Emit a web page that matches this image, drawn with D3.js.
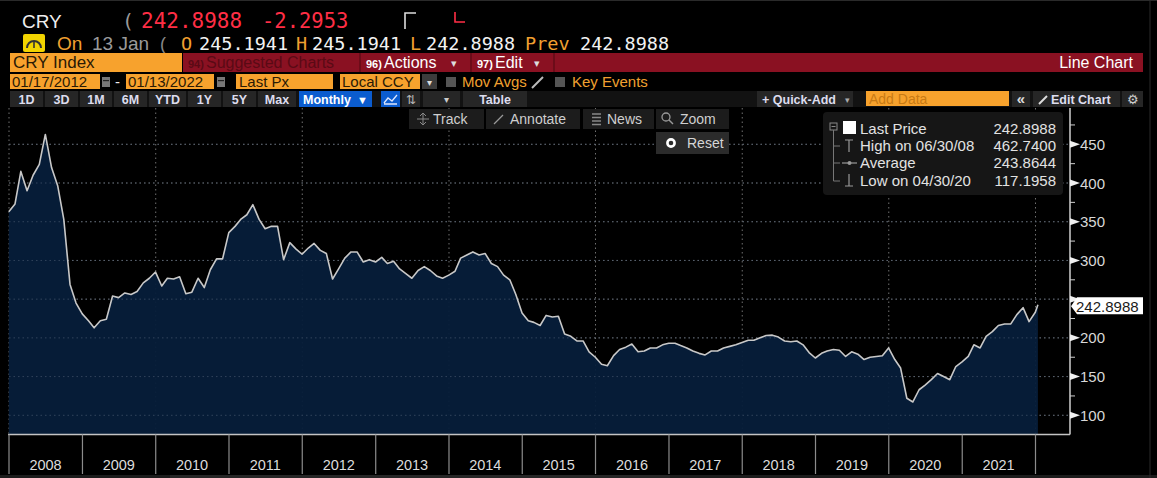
<!DOCTYPE html>
<html>
<head>
<meta charset="utf-8">
<script src="https://cdn.jsdelivr.net/npm/d3@7"></script>
<style>
  html, body { margin: 0; padding: 0; background: #000; }
  svg { display: block; }
</style>
</head>
<body>
<svg id="chart" width="1157" height="478"></svg>
<script>
// CRY Index monthly line chart (terminal style)

// month-end closes, first value is Dec 2007, then Jan..Dec for each year
const firstMonthEnd = '2007-12-31';
const monthlyLast = [
  363,
  373, 415, 390, 410, 424, 462.74, 420, 396, 353, 269, 245, 231,   // 2008
  222, 213, 222, 224, 254, 252, 258, 256, 260, 271, 277, 285,      // 2009
  267, 277, 276, 279, 257, 259, 277, 265, 288, 302, 302, 336,      // 2010
  344, 353, 359, 372, 353, 341, 344, 344, 301, 323, 315, 308,      // 2011
  316, 322, 313, 309, 276, 289, 303, 311, 311, 298, 301, 298,      // 2012
  304, 296, 299, 289, 283, 277, 287, 292, 287, 280, 277, 281,      // 2013
  286, 303, 307, 311, 307, 309, 296, 292, 281, 275, 256, 232,      // 2014
  222, 220, 216, 229, 227, 228, 205, 202, 196, 196, 182, 175,      // 2015
  166, 164, 177, 185, 188, 192, 182, 183, 187, 187, 191, 193,      // 2016
  193, 190, 187, 183, 180, 178, 183, 183, 187, 189, 191, 194,      // 2017
  197, 197, 200, 203, 203.5, 201, 196, 195, 196, 191, 181, 174,    // 2018
  180, 183, 185, 184, 176, 182, 179, 172, 175, 176, 177, 187,      // 2019
  172, 161, 122, 117.1958, 133, 139, 146, 154, 150, 146, 163, 169, // 2020
  176, 191, 187, 202, 208, 216, 218, 218, 230, 239, 221, 233       // 2021
];
const lastDate = '2022-01-13';
const lastValue = 242.8988;

const yearLabels = ['2008','2009','2010','2011','2012','2013','2014','2015','2016','2017','2018','2019','2020','2021'];
const yLabelTicks = [100, 150, 200, 250, 300, 350, 400, 450];
const yMinorTicks = [125, 175, 225, 275, 325, 375, 425, 475];
const gridYears = ['2008','2010','2012','2014','2016','2018','2020','2022'];

const legendNames = ['Last Price', 'High on 06/30/08', 'Average', 'Low on 04/30/20'];
const legendValues = ['242.8988', '462.7400', '243.8644', '117.1958'];

const quoteRow = { open: '245.1941', high: '245.1941', low: '242.8988', prev: '242.8988', last: '242.8988', change: '-2.2953' };

const rangeButtons = ['1D','3D','1M','6M','YTD','1Y','5Y','Max'];
const toolButtons = ['Track','Annotate','News','Zoom'];

// build the series
const parse = d3.timeParse('%Y-%m-%d');
const start = parse(firstMonthEnd);
let series = monthlyLast.map((v, i) => ({
  date: new Date(start.getFullYear(), start.getMonth() + 1 + i, 0),
  value: v
}));
series.push({ date: parse(lastDate), value: lastValue });

const svg = d3.select('#chart');
const UI = 'Liberation Sans, Arial, sans-serif';
const MONO = 'DejaVu Sans Mono, monospace';
const ORANGE = '#f7a22d';
const ORANGE_TXT = '#f0a030';

function txt(x, y, s, o) {
  o = o || {};
  return svg.append('text')
    .attr('x', x).attr('y', y)
    .attr('font-family', o.family || UI)
    .attr('font-size', o.size || 14)
    .attr('font-weight', o.weight || 'normal')
    .attr('fill', o.fill || '#ddd')
    .attr('text-anchor', o.anchor || 'start')
    .text(s);
}
function box(x, y, w, h, fill, r) {
  return svg.append('rect').attr('x', x).attr('y', y).attr('width', w).attr('height', h)
    .attr('fill', fill).attr('rx', r || 0);
}

svg.append('rect').attr('width', 1157).attr('height', 478).attr('fill', '#000');

// ---------- header rows ----------
txt(22, 28, 'CRY', { size: 19, fill: '#eee' });
txt(122, 28, '(', { size: 20, fill: '#999', family: MONO });
txt(141, 28, quoteRow.last, { size: 21, fill: '#ff2e45', family: MONO });
txt(262, 28, quoteRow.change, { size: 20.5, fill: '#ff2e45', family: MONO });
svg.append('path').attr('d', 'M405,29 V13 H416').attr('stroke', '#ddd').attr('stroke-width', 1.6).attr('fill', 'none');
svg.append('path').attr('d', 'M455,12 V22 H465').attr('stroke', '#ff2e45').attr('stroke-width', 1.6).attr('fill', 'none');

// yellow gauge icon
box(23, 34, 22, 18, '#f2d400', 2);
svg.append('path').attr('d', 'M27,48 A7,7 0 0 1 41,48').attr('stroke', '#333').attr('stroke-width', 2).attr('fill', 'none');
svg.append('line').attr('x1', 34).attr('y1', 48).attr('x2', 34).attr('y2', 41).attr('stroke', '#333').attr('stroke-width', 1.6);
txt(57, 50, 'On', { size: 19, fill: ORANGE_TXT });
txt(92, 50, '13 Jan', { size: 19, fill: '#9a9a9a' });
txt(160, 50, '(', { size: 18, fill: '#888' });
txt(181, 50, 'O', { size: 18.5, fill: ORANGE_TXT, family: MONO });
txt(199, 50, quoteRow.open, { size: 18.5, fill: '#f2f2f2', family: MONO });
txt(296, 50, 'H', { size: 18.5, fill: ORANGE_TXT, family: MONO });
txt(312, 50, quoteRow.high, { size: 18.5, fill: '#f2f2f2', family: MONO });
txt(410, 50, 'L', { size: 18.5, fill: ORANGE_TXT, family: MONO });
txt(426, 50, quoteRow.low, { size: 18.5, fill: '#f2f2f2', family: MONO });
txt(525, 50, 'Prev', { size: 18.5, fill: ORANGE_TXT, family: MONO });
txt(580, 50, quoteRow.prev, { size: 18.5, fill: '#f2f2f2', family: MONO });

// row 3: security box + red action bar
box(10, 53, 172, 19, ORANGE);
txt(13, 68, 'CRY Index', { size: 17, fill: '#2a1a05' });
box(183, 53, 960, 19, '#8a1122');
[359, 470, 553].forEach(xp => box(xp, 53, 2, 19, '#6c0c19'));
txt(188, 68, '94)', { size: 11, fill: '#5a0a15', weight: 'bold' });
txt(206, 68, 'Suggested Charts', { size: 16, fill: '#5a0a15' });
txt(366, 68, '96)', { size: 11, fill: '#fff', weight: 'bold' });
txt(384, 68, 'Actions', { size: 16, fill: '#fff' });
txt(451, 67, '▾', { size: 11, fill: '#ddd' });
txt(477, 68, '97)', { size: 11, fill: '#fff', weight: 'bold' });
txt(495, 68, 'Edit', { size: 16, fill: '#fff' });
txt(534, 67, '▾', { size: 11, fill: '#ddd' });
txt(1133, 68, 'Line Chart', { size: 16, fill: '#fff', anchor: 'end' });

// row 4: date range and options
function calIcon(x) {
  box(x, 77, 8, 10, '#777');
  box(x + 1, 80, 6, 1.2, '#222');
}
box(10, 74, 90, 15, ORANGE); txt(12, 87, '01/17/2012', { size: 15, fill: '#2a1a05' });
calIcon(102);
txt(115, 87, '-', { size: 15, fill: '#eee' });
box(126, 74, 88, 15, ORANGE); txt(128, 87, '01/13/2022', { size: 15, fill: '#2a1a05' });
calIcon(217);
box(236, 74, 97, 15, ORANGE); txt(239, 87, 'Last Px', { size: 15, fill: '#2a1a05' });
box(340, 74, 80, 15, ORANGE); txt(342, 87, 'Local CCY', { size: 15, fill: '#2a1a05' });
box(422, 74, 15, 15, '#3c3c3c'); txt(429.5, 86, '▾', { size: 10, fill: '#ddd', anchor: 'middle' });
box(446, 77, 10, 10, '#555');
txt(462, 87, 'Mov Avgs', { size: 15, fill: ORANGE_TXT });
svg.append('line').attr('x1', 532).attr('y1', 88).attr('x2', 543).attr('y2', 77).attr('stroke', '#bbb').attr('stroke-width', 2);
box(555, 77, 10, 10, '#555');
txt(572, 87, 'Key Events', { size: 15, fill: ORANGE_TXT });

// row 5: toolbar
box(10, 91, 1133, 16, '#121212');
const rangeX = [10, 45, 80, 114, 149, 188, 223, 258];
const rangeW = [33, 33, 32, 33, 37, 33, 33, 38];
rangeButtons.forEach((b, i) => {
  box(rangeX[i], 91, rangeW[i], 16, '#262626');
  txt(rangeX[i] + rangeW[i] / 2, 104, b, { size: 12.5, fill: '#dde', anchor: 'middle', weight: 'bold' });
});
box(299, 91, 73, 16, '#0b5ccf');
txt(303, 104, 'Monthly', { size: 12.5, fill: '#fff', weight: 'bold' });
txt(357, 104, '▼', { size: 11, fill: '#fff' });
box(381, 91, 19, 16, '#0b5ccf');
svg.append('path').attr('d', 'M384,103 L388,98 L392,101 L397,95 M384,104 H397').attr('stroke', '#dfe8ff').attr('stroke-width', 1.3).attr('fill', 'none');
box(402, 91, 18, 16, '#262626');
txt(411, 104, '⇅', { size: 12, fill: '#bbb', anchor: 'middle' });
box(423, 91, 37, 16, '#262626');
txt(446, 103, '▾', { size: 10, fill: '#ccc', anchor: 'middle' });
box(463, 91, 64, 16, '#262626');
txt(495, 104, 'Table', { size: 12.5, fill: '#dde', anchor: 'middle', weight: 'bold' });
box(757, 91, 96, 16, '#262626');
txt(762, 104, '+ Quick-Add', { size: 12.5, fill: '#dde', weight: 'bold' });
txt(845, 103, '▾', { size: 9, fill: '#aaa' });
box(866, 91, 143, 15, ORANGE);
txt(869, 104, 'Add Data', { size: 14, fill: '#c87a14' });
box(1012, 91, 18, 16, '#262626');
txt(1021, 104, '«', { size: 15, fill: '#ddd', anchor: 'middle', weight: 'bold' });
box(1033, 91, 87, 16, '#262626');
svg.append('line').attr('x1', 1039).attr('y1', 104).attr('x2', 1047).attr('y2', 96).attr('stroke', '#ddd').attr('stroke-width', 2);
txt(1051, 104, 'Edit Chart', { size: 12.5, fill: '#dde', weight: 'bold' });
box(1122, 91, 21, 16, '#262626');
txt(1132.5, 104, '⚙', { size: 13, fill: '#ccc', anchor: 'middle' });

// ---------- chart ----------
const plotLeft = 9, plotRight = 1070, plotTop = 108, plotBottom = 434.4;

const x = d3.scaleTime()
  .domain([new Date(2008, 0, 1), new Date(2022, 0, 1)])
  .range([plotLeft, 1035.5]);
const y = d3.scaleLinear()
  .domain([100, 450])
  .range([415.3, 144.3]);

// dotted grid
svg.append('g')
  .selectAll('line')
  .data(yLabelTicks)
  .join('line')
    .attr('x1', plotLeft).attr('x2', plotRight)
    .attr('y1', d => y(d)).attr('y2', d => y(d))
    .attr('stroke', '#707070').attr('stroke-width', 1).attr('stroke-dasharray', '1.5,3');

svg.append('g')
  .selectAll('line')
  .data(gridYears)
  .join('line')
    .attr('x1', d => x(new Date(+d, 0, 1))).attr('x2', d => x(new Date(+d, 0, 1)))
    .attr('y1', plotTop).attr('y2', plotBottom)
    .attr('stroke', '#707070').attr('stroke-width', 1).attr('stroke-dasharray', '1.5,3');

// area and line
const area = d3.area()
  .x(d => x(d.date))
  .y0(plotBottom)
  .y1(d => y(d.value));
const line = d3.line()
  .x(d => x(d.date))
  .y(d => y(d.value));

svg.append('path')
  .datum(series)
  .attr('fill', '#061d3a')
  .attr('fill-opacity', 0.95)
  .attr('d', area);

// grid shows faintly through the area
svg.append('g')
  .selectAll('line')
  .data(yLabelTicks)
  .join('line')
    .attr('x1', plotLeft).attr('x2', plotRight)
    .attr('y1', d => y(d)).attr('y2', d => y(d))
    .attr('stroke', '#4a5a70').attr('stroke-width', 1).attr('stroke-dasharray', '1.5,3')
    .attr('opacity', 0.6);

svg.append('path')
  .datum(series)
  .attr('fill', 'none')
  .attr('stroke', '#c8c8c8')
  .attr('stroke-width', 1.6)
  .attr('stroke-linejoin', 'round')
  .attr('d', line);

// track / annotate / news / zoom bar
const toolX = [409, 486, 583, 656];
const toolW = [75, 94, 71, 73];
toolButtons.forEach((b, i) => {
  box(toolX[i], 109, toolW[i], 20, '#1c1c1c');
  txt(toolX[i] + 24, 124, b, { size: 14, fill: '#cfcfcf' });
});
// icons
svg.append('path').attr('d', 'M423,113 V125 M417,119 H429 M420,116 L423,113 L426,116 M420,122 L423,125 L426,122')
  .attr('stroke', '#888').attr('stroke-width', 1).attr('fill', 'none');
svg.append('line').attr('x1', 494).attr('y1', 124).attr('x2', 503).attr('y2', 115).attr('stroke', '#999').attr('stroke-width', 1.3);
svg.append('path').attr('d', 'M592,114 H601 M592,117.5 H601 M592,121 H601 M592,124.5 H601')
  .attr('stroke', '#888').attr('stroke-width', 1.6);
svg.append('circle').attr('cx', 666).attr('cy', 117).attr('r', 4).attr('stroke', '#999').attr('stroke-width', 1.3).attr('fill', 'none');
svg.append('line').attr('x1', 669).attr('y1', 120).attr('x2', 673).attr('y2', 124).attr('stroke', '#999').attr('stroke-width', 1.5);
box(656, 132, 73, 22, '#2b2b2b');
svg.append('circle').attr('cx', 671).attr('cy', 143).attr('r', 3.6).attr('stroke', '#fff').attr('stroke-width', 2.6).attr('fill', 'none');
txt(687, 148, 'Reset', { size: 14, fill: '#d6d6d6' });

// legend panel
box(823, 112, 240, 83, '#161616', 4);
svg.append('rect').attr('x', 830).attr('y', 123).attr('width', 7).attr('height', 7)
  .attr('fill', 'none').attr('stroke', '#888').attr('stroke-width', 1);
svg.append('line').attr('x1', 831.5).attr('x2', 835.5).attr('y1', 126.5).attr('y2', 126.5).attr('stroke', '#888');
svg.append('path').attr('d', 'M833.5,130 V181 M833.5,146 H840 M833.5,163 H840 M833.5,181 H840')
  .attr('stroke', '#777').attr('stroke-width', 1).attr('fill', 'none');
box(843, 121, 13, 13, '#fff');
// high, average, low markers
svg.append('path').attr('d', 'M845,140 H853 M849,140 V152').attr('stroke', '#999').attr('stroke-width', 1.2);
svg.append('path').attr('d', 'M842,163 H857').attr('stroke', '#999').attr('stroke-width', 1.2);
svg.append('circle').attr('cx', 849.5).attr('cy', 163).attr('r', 2).attr('fill', '#999');
svg.append('path').attr('d', 'M849,174 V186 M845,186 H853').attr('stroke', '#999').attr('stroke-width', 1.2);
legendNames.forEach((n, i) => {
  txt(860, 134 + i * 17.2, n, { size: 15, fill: '#e2e2e2' });
  txt(1056, 134 + i * 17.2, legendValues[i], { size: 15, fill: '#e2e2e2', anchor: 'end' });
});

// right y axis; labels hidden where the last price tag sits
const ly = y(lastValue);
const shownTicks = yLabelTicks.filter(d => Math.abs(y(d) - ly) > 14);
svg.append('line').attr('x1', plotRight).attr('x2', plotRight).attr('y1', plotTop).attr('y2', plotBottom)
  .attr('stroke', '#cfcfcf').attr('stroke-width', 1.5);
svg.append('g')
  .selectAll('line')
  .data(yMinorTicks)
  .join('line')
    .attr('x1', plotRight).attr('x2', plotRight + 5)
    .attr('y1', d => y(d)).attr('y2', d => y(d))
    .attr('stroke', '#cfcfcf').attr('stroke-width', 1);
svg.append('g')
  .selectAll('path')
  .data(yLabelTicks)
  .join('path')
    .attr('d', d => `M${plotRight},${y(d) - 3.5} L${plotRight + 10},${y(d)} L${plotRight},${y(d) + 3.5} Z`)
    .attr('fill', '#f0f0f0');
svg.append('g')
  .selectAll('text')
  .data(shownTicks)
  .join('text')
    .attr('x', plotRight + 10).attr('y', d => y(d) + 5.5)
    .attr('font-family', UI).attr('font-size', 15).attr('fill', '#d8d8d8')
    .text(d => d);

// last price tag
svg.append('path')
  .attr('d', `M${plotRight + 1},${ly + 1.5} L${plotRight + 7},${ly - 7.5} H1143 V${ly + 9.5} H${plotRight + 7} Z`)
  .attr('fill', '#fff');
txt(1076, ly + 7, d3.format('.4f')(lastValue), { size: 15, fill: '#1a1a1a' });

// bottom x axis
svg.append('line').attr('x1', plotLeft - 1).attr('x2', plotRight).attr('y1', plotBottom).attr('y2', plotBottom)
  .attr('stroke', '#c4c4c4').attr('stroke-width', 1.5);
const yearTicks = yearLabels.concat(['2022']);
svg.append('g')
  .selectAll('line')
  .data(yearTicks)
  .join('line')
    .attr('x1', d => x(new Date(+d, 0, 1))).attr('x2', d => x(new Date(+d, 0, 1)))
    .attr('y1', plotBottom).attr('y2', 474)
    .attr('stroke', '#8c8c8c').attr('stroke-width', 1.2);
svg.append('g')
  .selectAll('text')
  .data(yearLabels)
  .join('text')
    .attr('x', d => x(new Date(+d, 6, 1)))
    .attr('y', 470)
    .attr('text-anchor', 'middle')
    .attr('font-family', UI).attr('font-size', 14.5).attr('fill', '#dcdcdc')
    .text(d => d);

// bottom strip and frame
box(0, 475, 1157, 3, '#1c1c1c');
box(170, 475, 500, 3, '#262626');
svg.append('line').attr('x1', 1150).attr('x2', 1150).attr('y1', 0).attr('y2', 478).attr('stroke', '#2a2a2a');
svg.append('line').attr('x1', 0).attr('x2', 1157).attr('y1', 0.5).attr('y2', 0.5).attr('stroke', '#2a2a2a');
</script>
</body>
</html>
